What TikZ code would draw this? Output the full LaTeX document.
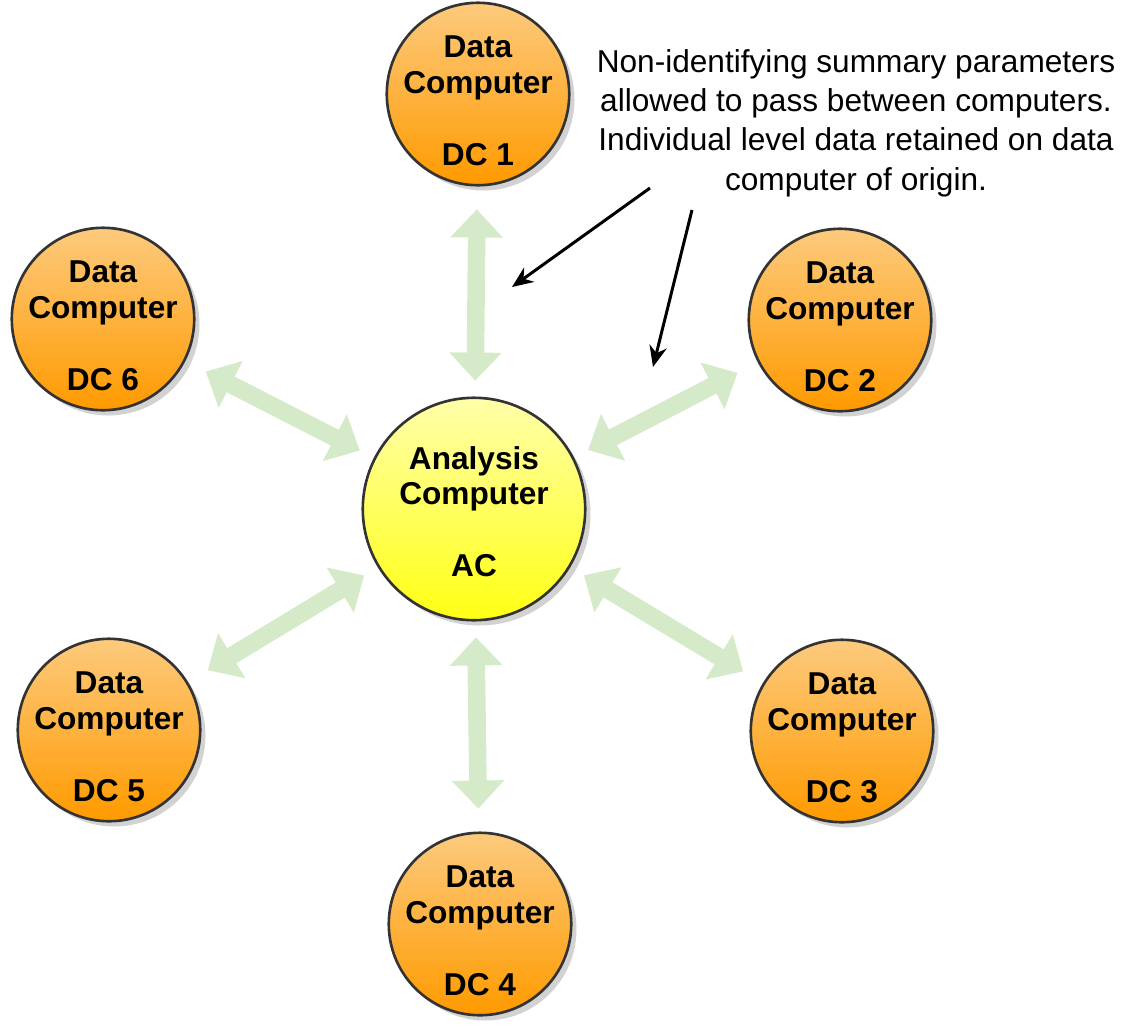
\documentclass[tikz,border=0pt]{standalone}
\usepackage{fontspec}
\setmainfont{Liberation Sans}
\usetikzlibrary{arrows.meta, shadows}

\definecolor{dcorange}{RGB}{255,154,0}
\definecolor{dclight}{RGB}{253,202,125}
\definecolor{acyellow}{RGB}{255,255,20}
\definecolor{aclight}{RGB}{255,255,170}
\definecolor{linkgreen}{RGB}{213,234,200}

\tikzset{
  computer/.style={circle, draw=black!80, line width=1.5pt, inner sep=-5pt, align=center,
    font=\bfseries\fontsize{18}{20.4}\selectfont,
    drop shadow={shadow xshift=3pt, shadow yshift=-3pt, fill=black!35}},
  datapc/.style={computer, minimum size=3.65cm, top color=dclight, bottom color=dcorange},
  analysispc/.style={computer, minimum size=4.45cm, top color=aclight, bottom color=acyellow},
  link/.style={linkgreen, line width=10pt,
    {Triangle[length=16pt,width=29pt]}-{Triangle[length=16pt,width=29pt]},
    shorten <=9pt, shorten >=13pt},
  pointer/.style={-{Stealth[length=12pt,width=10pt]}, line width=1.7pt}
}

\begin{document}
\begin{tikzpicture}[x=0.02cm, y=-0.02cm]
    % 固定画布大小
    \useasboundingbox (0,0) rectangle (1122,1029);

    % 绘制中心的Analysis Computer
    \node[analysispc] (ac) at (474,509) {\rule{0pt}{16pt}Analysis\\Computer\\[20.4pt]AC};

    % 绘制六台Data Computer (\rule 让文字略微下移)
    \node[datapc] (dc1) at (478,94) {\rule{0pt}{20pt}Data\\Computer\\[20.4pt]DC 1};
    \node[datapc] (dc2) at (840,320) {\rule{0pt}{20pt}Data\\Computer\\[20.4pt]DC 2};
    \node[datapc] (dc3) at (842,731) {\rule{0pt}{20pt}Data\\Computer\\[20.4pt]DC 3};
    \node[datapc] (dc4) at (480,924) {\rule{0pt}{20pt}Data\\Computer\\[20.4pt]DC 4};
    \node[datapc] (dc5) at (109,730) {\rule{0pt}{20pt}Data\\Computer\\[20.4pt]DC 5};
    \node[datapc] (dc6) at (103,319) {\rule{0pt}{20pt}Data\\Computer\\[20.4pt]DC 6};

    % 绘制AC与各DC之间的双向箭头
    \draw[link] (ac) -- (dc1);
    \draw[link] (ac) -- (dc2);
    \draw[link] (ac) -- (dc3);
    \draw[link] (ac) -- (dc4);
    \draw[link] (ac) -- (dc5);
    \draw[link] (ac) -- (dc6);

    % 右上角的说明文字
    \node[align=center, font=\fontsize{18}{22.4}\selectfont] (note) at (856,123)
        {Non-identifying summary parameters\\allowed to pass between computers.\\Individual level data retained on data\\computer of origin.};

    % 标记说明文字下方两个箭头的起点和终点
    \coordinate (note_left) at (650,188);
    \coordinate (note_right) at (692,210);
    \coordinate (link_top) at (512,287);
    \coordinate (link_right) at (653,367);

    % 绘制从说明文字指向箭头的线条
    \draw[pointer] (note_left) -- (link_top);
    \draw[pointer] (note_right) -- (link_right);
\end{tikzpicture}
\end{document}
